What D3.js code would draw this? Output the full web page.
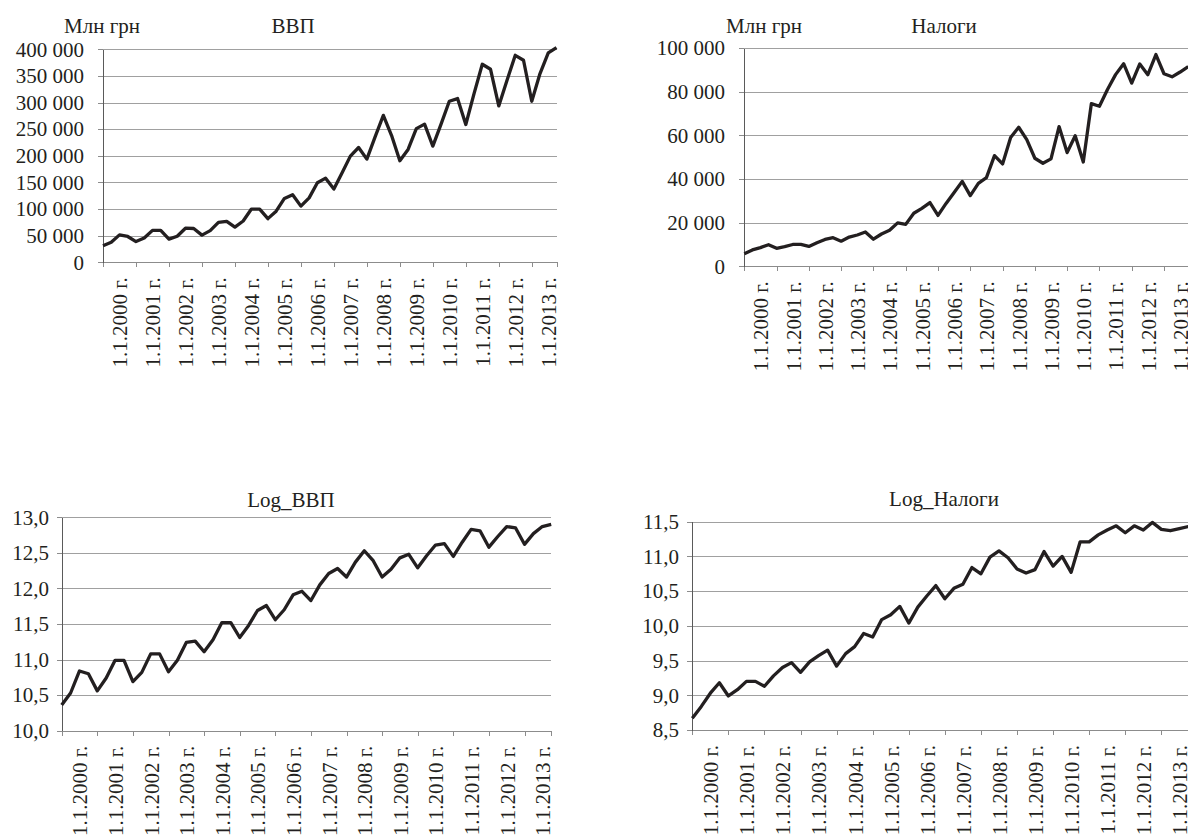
<!DOCTYPE html>
<html>
<head>
<meta charset="utf-8">
<script src="https://cdn.jsdelivr.net/npm/d3@7"></script>
<style>
  body { margin: 0; background: #ffffff; }
  svg { display: block; }
  text { font-family: "Liberation Serif", "Times New Roman", serif; fill: #231f20; }
</style>
</head>
<body>
<svg id="chart" width="1188" height="840"></svg>
<script>
// Quarterly series, 2000 Q1 – 2013 Q4
const yearLabels = [
  "1.1.2000 г.", "1.1.2001 г.", "1.1.2002 г.", "1.1.2003 г.", "1.1.2004 г.",
  "1.1.2005 г.", "1.1.2006 г.", "1.1.2007 г.", "1.1.2008 г.", "1.1.2009 г.",
  "1.1.2010 г.", "1.1.2011 г.", "1.1.2012 г.", "1.1.2013 г."
];

// ВВП, млн грн
const gdp = [
  31000, 37500, 51500, 48500, 39000, 45500, 60000, 60000,
  43500, 49000, 64000, 63500, 51000, 59400, 75000, 77000,
  66000, 77500, 100000, 100000, 82000, 96000, 120000, 127000,
  105500, 121000, 149400, 158000, 137500, 168000, 199400, 215600,
  193800, 235600, 276000, 238000, 190600, 212000, 251000, 259400,
  218100, 259400, 302500, 307500, 258700, 316900, 371900, 362500,
  293700, 341900, 388700, 379400, 302500, 354400, 393100, 403100
];

// Налоги, млн грн
const taxes = [
  5800, 7500, 8550, 9900, 8250, 9000, 10000, 10000,
  9100, 10800, 12300, 13100, 11500, 13400, 14350, 15700,
  12400, 14800, 16500, 19900, 19200, 24300, 26500, 29200,
  23300, 28800, 33800, 38900, 32400, 38000, 40600, 50700,
  46900, 59000, 63700, 58000, 49500, 47200, 49200, 64000,
  52100, 59800, 47800, 74500, 73300, 81000, 87800, 92800,
  83900, 92700, 87800, 97000, 88200, 86800, 89000, 91500
];

// Log_ВВП
const logGdp = [
  10.36, 10.53, 10.84, 10.80, 10.56, 10.74, 10.99, 10.99,
  10.69, 10.82, 11.08, 11.08, 10.83, 10.99, 11.24, 11.26,
  11.11, 11.28, 11.52, 11.52, 11.31, 11.48, 11.69, 11.76,
  11.56, 11.70, 11.91, 11.96, 11.83, 12.05, 12.21, 12.28,
  12.16, 12.37, 12.53, 12.39, 12.16, 12.27, 12.43, 12.48,
  12.29, 12.46, 12.61, 12.63, 12.45, 12.65, 12.83, 12.81,
  12.58, 12.73, 12.87, 12.85, 12.62, 12.77, 12.87, 12.90
];

// Log_Налоги
const logTaxes = [
  8.67, 8.84, 9.03, 9.18, 8.99, 9.08, 9.20, 9.20,
  9.13, 9.28, 9.40, 9.47, 9.33, 9.48, 9.57, 9.65,
  9.42, 9.60, 9.70, 9.89, 9.84, 10.09, 10.16, 10.28,
  10.04, 10.27, 10.43, 10.58, 10.39, 10.54, 10.60, 10.84,
  10.75, 10.99, 11.08, 10.98, 10.82, 10.76, 10.81, 11.07,
  10.86, 11.00, 10.77, 11.21, 11.21, 11.31, 11.38, 11.44,
  11.34, 11.44, 11.38, 11.49, 11.39, 11.37, 11.40, 11.43
];

const gdpTicks = [0, 50000, 100000, 150000, 200000, 250000, 300000, 350000, 400000];
const taxTicks = [0, 20000, 40000, 60000, 80000, 100000];
const logGdpTicks = [10, 10.5, 11, 11.5, 12, 12.5, 13];
const logTaxTicks = [8.5, 9, 9.5, 10, 10.5, 11, 11.5];

const locale = d3.formatLocale({ decimal: ",", thousands: " ", grouping: [3], currency: ["", ""] });
const fmtThousands = locale.format(",d");
const fmtDecimal = locale.format(".1f");

// Layout of the four panels
const panels = [
  { values: gdp, ticks: gdpTicks, fmt: fmtThousands, title: "ВВП", unit: "Млн грн",
    x0: 103, x1: 556.5, yBottom: 262.3, yTop: 49.3, labelEnd: 84, titleX: 293, unitX: 102, titleY: 33 },
  { values: taxes, ticks: taxTicks, fmt: fmtThousands, title: "Налоги", unit: "Млн грн",
    x0: 744.3, x1: 1188.2, yBottom: 266.3, yTop: 48, labelEnd: 725, titleX: 944, unitX: 764, titleY: 33 },
  { values: logGdp, ticks: logGdpTicks, fmt: fmtDecimal, title: "Log_ВВП", unit: null,
    x0: 61.7, x1: 551.2, yBottom: 730.7, yTop: 517.3, labelEnd: 49, titleX: 291, unitX: 0, titleY: 507 },
  { values: logTaxes, ticks: logTaxTicks, fmt: fmtDecimal, title: "Log_Налоги", unit: null,
    x0: 692.3, x1: 1188.4, yBottom: 730, yTop: 521.7, labelEnd: 679, titleX: 944, unitX: 0, titleY: 506 }
];

const FONT = "'Liberation Serif', 'Times New Roman', serif";
const svg = d3.select("#chart");

panels.forEach(p => {
  const n = p.values.length;
  const g = svg.append("g");
  const x = d3.scaleLinear().domain([0, n - 1]).range([p.x0, p.x1]);
  const y = d3.scaleLinear().domain([p.ticks[0], p.ticks[p.ticks.length - 1]]).range([p.yBottom, p.yTop]);

  // horizontal gridlines
  const grid = g.append("g")
    .attr("transform", `translate(${p.x0},0)`)
    .call(d3.axisLeft(y).tickValues(p.ticks.slice(1)).tickSize(-(p.x1 - p.x0)).tickFormat(""));
  grid.select(".domain").remove();
  grid.selectAll("line").attr("stroke", "#a0a0a0").attr("shape-rendering", "crispEdges");

  // x axis line with yearly tick marks
  const yearTicks = d3.range(0, n, 4).concat([n - 1]);
  const xAxis = g.append("g")
    .attr("transform", `translate(0,${p.yBottom})`)
    .call(d3.axisBottom(x).tickValues(yearTicks).tickSize(5).tickSizeOuter(0).tickFormat(""));
  xAxis.select(".domain").attr("stroke", "#8c8c8c").attr("shape-rendering", "crispEdges");
  xAxis.selectAll(".tick line").attr("stroke", "#8c8c8c").attr("shape-rendering", "crispEdges");

  // year labels, centred within each year's interval
  const labelAxis = g.append("g")
    .attr("transform", `translate(0,${p.yBottom})`)
    .call(d3.axisBottom(x).tickValues(d3.range(2, n, 4)).tickSize(0)
      .tickFormat(i => yearLabels[(i - 2) / 4]));
  labelAxis.select(".domain").remove();
  labelAxis.attr("font-family", FONT).attr("font-size", 21);
  labelAxis.selectAll("text")
    .attr("fill", "#231f20")
    .attr("transform", "rotate(-90)")
    .attr("text-anchor", "end")
    .attr("x", -15)
    .attr("y", 0)
    .attr("dy", "0.35em");

  // y axis
  const yAxis = g.append("g")
    .attr("transform", `translate(${p.x0},0)`)
    .call(d3.axisLeft(y).tickValues(p.ticks).tickSize(5).tickSizeOuter(0)
      .tickPadding(p.x0 - p.labelEnd - 5).tickFormat(p.fmt));
  yAxis.attr("font-family", FONT).attr("font-size", 21);
  yAxis.select(".domain").attr("stroke", "#5a5a5a").attr("shape-rendering", "crispEdges");
  yAxis.selectAll(".tick line").attr("stroke", "#8c8c8c").attr("shape-rendering", "crispEdges");
  yAxis.selectAll("text").attr("fill", "#231f20");

  // series line
  g.append("path")
    .datum(p.values)
    .attr("fill", "none")
    .attr("stroke", "#231f20")
    .attr("stroke-width", 3.3)
    .attr("stroke-linejoin", "round")
    .attr("d", d3.line().x((d, i) => x(i)).y(d => y(d)));

  // titles
  g.append("text")
    .attr("x", p.titleX).attr("y", p.titleY)
    .attr("text-anchor", "middle")
    .attr("font-size", 21)
    .text(p.title);
  if (p.unit) {
    g.append("text")
      .attr("x", p.unitX).attr("y", p.titleY)
      .attr("text-anchor", "middle")
      .attr("font-size", 21)
      .text(p.unit);
  }
});
</script>
</body>
</html>
